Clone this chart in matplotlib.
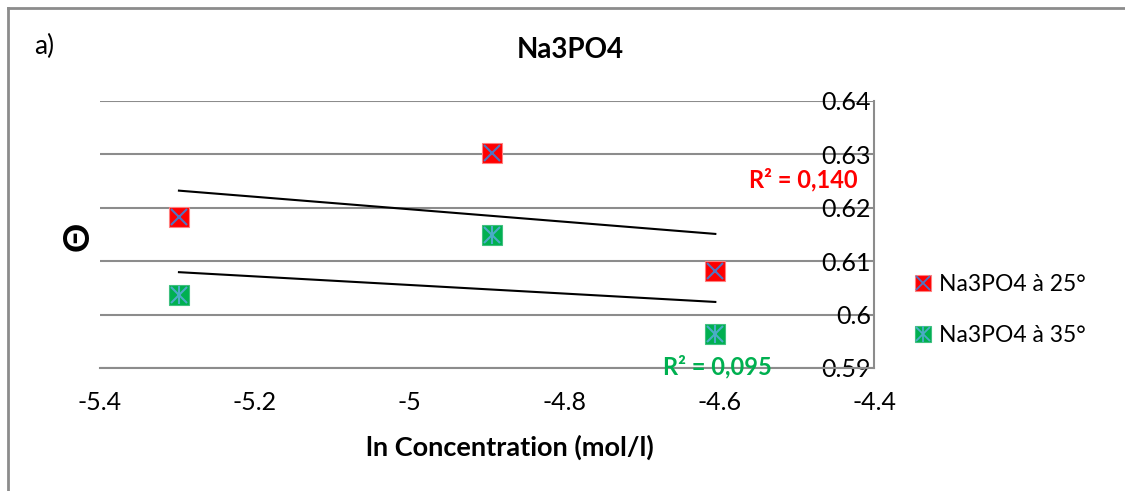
import numpy as np
import matplotlib.pyplot as plt
from matplotlib.lines import Line2D
from matplotlib.legend_handler import HandlerTuple

plt.rcParams['font.family'] = ['Lato', 'DejaVu Sans']

# data
ln_conc = [-5.298, -4.893, -4.605]
theta_25 = [0.6183, 0.6303, 0.6082]
theta_35 = [0.6037, 0.6149, 0.5964]
r2_25 = "R² = 0,140"
r2_35 = "R² = 0,095"
x_ticks = [-5.4, -5.2, -5.0, -4.8, -4.6, -4.4]
x_labels = ["-5.4", "-5.2", "-5", "-4.8", "-4.6", "-4.4"]
y_ticks = [0.59, 0.60, 0.61, 0.62, 0.63, 0.64]
y_labels = ["0.59", "0.6", "0.61", "0.62", "0.63", "0.64"]
labels = ["Na3PO4 à 25°", "Na3PO4 à 35°"]

W, H = 1125, 491
fig = plt.figure(figsize=(W / 100, H / 100), dpi=100)
ax = fig.add_axes([100 / W, 1 - 368 / H, 774 / W, 267 / H])

grey = '#8c8c8c'
ax.set_xlim(-5.4, -4.4)
ax.set_ylim(0.59, 0.64)
ax.set_xticks(x_ticks)
ax.set_xticklabels(x_labels, fontsize=18)
ax.set_yticks(y_ticks)
ax.set_yticklabels(y_labels, fontsize=18)
ax.yaxis.grid(True, color=grey, lw=1.5)
ax.set_axisbelow(True)
for s in ['left', 'top']:
    ax.spines[s].set_visible(False)
for s in ['right', 'bottom']:
    ax.spines[s].set_color(grey)
    ax.spines[s].set_linewidth(1.5)
ax.tick_params(axis='x', length=0, pad=16.5)
ax.tick_params(axis='y', left=False, right=False, labelleft=False, labelright=True, length=0, pad=-2)
for t in ax.get_yticklabels():
    t.set_horizontalalignment('right')

# trend lines
xs = np.array([ln_conc[0], ln_conc[-1]])
for ys in (theta_25, theta_35):
    k, b = np.polyfit(ln_conc, ys, 1)
    ax.plot(xs, k * xs + b, color='black', lw=1.5, zorder=3)

# markers
ms = 14
ax.plot(ln_conc, theta_25, 's', ms=ms, mfc='#ff0000', mec='#ff8080', mew=0.8, zorder=4)
ax.plot(ln_conc, theta_25, 'x', ms=ms * 0.8, mec='#4f74c2', mew=1.5, zorder=5)
ax.plot(ln_conc, theta_35, 's', ms=ms, mfc='#00b050', mec='#40c080', mew=0.8, zorder=4)
ax.plot(ln_conc, theta_35, 'x', ms=ms * 0.8, mec='#4bacc6', mew=1.5, zorder=5)
ax.plot(ln_conc, theta_35, '|', ms=ms * 0.95, mec='#4bacc6', mew=1.5, zorder=5)

ax.text(858 / W, 1 - 180 / H, r2_25, transform=fig.transFigure, color='#ff0000',
        fontsize=17, fontweight='bold', ha='right', va='center')
ax.text(663 / W, 1 - 367 / H, r2_35, transform=fig.transFigure, color='#00b050',
        fontsize=17, fontweight='bold', ha='left', va='center')

fig.text(570 / W, 1 - 50 / H, "Na3PO4", fontsize=20, fontweight='bold', ha='center', va='center')
fig.text(510 / W, 1 - 447 / H, "ln Concentration (mol/l)", fontsize=19.5, fontweight='bold',
         ha='center', va='center')
fig.text(78 / W, 1 - 236 / H, "Θ", fontsize=26, fontweight='bold', rotation=90,
         ha='center', va='center')
fig.text(34 / W, 1 - 46 / H, "a)", fontsize=19, ha='left', va='center')

# legend
h25 = (Line2D([], [], ls='', marker='s', ms=12, mfc='#ff0000', mec='#ff8080', mew=0.8),
       Line2D([], [], ls='', marker='x', ms=10, mec='#4f74c2', mew=1.3))
h35 = (Line2D([], [], ls='', marker='s', ms=12, mfc='#00b050', mec='#40c080', mew=0.8),
       Line2D([], [], ls='', marker='x', ms=10, mec='#4bacc6', mew=1.3),
       Line2D([], [], ls='', marker='|', ms=12, mec='#4bacc6', mew=1.3))
fig.legend([h25, h35], labels, handler_map={tuple: HandlerTuple(ndivide=1, pad=0)},
           loc='center left', bbox_to_anchor=(905 / W, 1 - 310 / H), frameon=False,
           fontsize=16.5, handlelength=0.8, handletextpad=0.3, labelspacing=1.3,
           borderaxespad=0)

# chart border
fig.add_artist(Line2D([8 / W, 1], [1 - 8 / H, 1 - 8 / H], color=grey, lw=2))
fig.add_artist(Line2D([8 / W, 8 / W], [0, 1 - 8 / H], color=grey, lw=2))

fig.savefig('out.png', dpi=100)
